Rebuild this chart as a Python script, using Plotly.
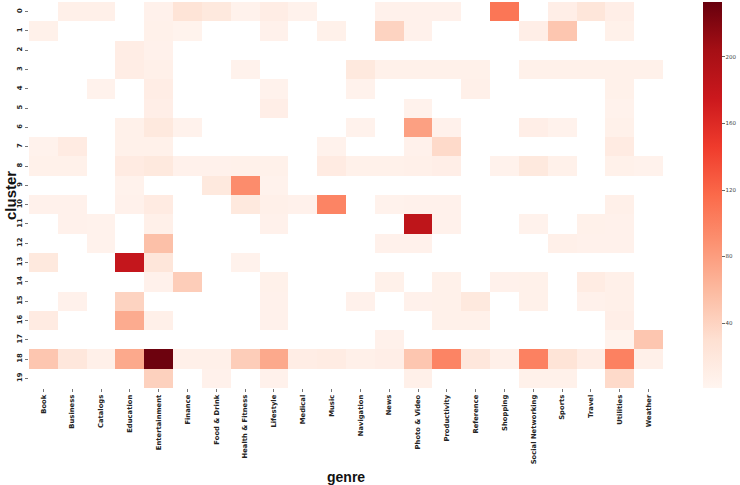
import plotly.graph_objects as go

genres = ["Book", "Business", "Catalogs", "Education", "Entertainment", "Finance",
          "Food & Drink", "Health & Fitness", "Lifestyle", "Medical", "Music",
          "Navigation", "News", "Photo & Video", "Productivity", "Reference",
          "Shopping", "Social Networking", "Sports", "Travel", "Utilities", "Weather"]
clusters = list(range(20))
N = None

cluster_0 = [N, 8, 8, N, 6, 25, 18, 5, 12, 5, N, N, 6, 6, 6, N, 108, N, 10, 22, 10, N]
cluster_1 = [7, N, N, N, 7, 4, N, N, 6, N, 7, N, 40, 6, N, N, N, 10, 50, N, 7, N]
cluster_2 = [N, N, N, 12, 6, N, N, N, N, N, N, N, N, N, N, N, N, N, N, N, N, N]
cluster_3 = [N, N, N, 12, 8, N, N, 5, N, N, N, 18, 7, 7, 7, 7, N, 7, 7, 7, 7, 7]
cluster_4 = [N, N, 5, N, 12, N, N, N, 5, N, N, 5, N, N, N, 8, N, N, N, N, 7, N]
cluster_5 = [N, N, N, N, 10, N, N, N, 10, N, N, N, N, 5, N, N, N, N, N, N, 5, N]
cluster_6 = [N, N, N, 7, 18, 5, N, N, N, N, N, 5, N, 78, 6, N, N, 10, 5, N, 7, N]
cluster_7 = [5, 15, N, 7, 7, N, N, N, N, N, 5, N, N, 6, 35, N, N, N, N, N, 15, N]
cluster_8 = [7, 7, N, 15, 18, 6, 6, 7, 7, N, 15, 7, 7, 8, 10, N, 5, 18, 7, N, 7, 5]
cluster_9 = [N, N, N, 5, N, N, 18, 92, 5, N, N, N, N, N, N, N, N, N, N, N, N, N]
cluster_10 = [6, 6, N, 6, 15, N, N, 18, 8, 6, 98, N, 5, 6, 6, N, N, N, N, N, 8, N]
cluster_11 = [N, 6, 5, N, 8, N, N, N, 6, N, N, N, N, 185, 6, N, N, 5, N, 7, 6, N]
cluster_12 = [N, N, 5, N, 55, N, N, N, N, N, N, N, 6, 6, N, N, N, N, 8, 6, 6, N]
cluster_13 = [18, N, N, 180, 22, N, N, 5, N, N, N, N, N, N, N, N, N, N, N, N, N, N]
cluster_14 = [N, N, N, N, 6, 45, N, N, 7, N, N, N, 7, N, 7, N, 6, 7, N, 14, 8, N]
cluster_15 = [N, 6, N, 40, N, N, N, N, 6, N, N, 6, N, 6, 7, 18, N, 7, N, 6, 8, N]
cluster_16 = [15, N, N, 70, 8, N, N, N, 6, N, N, N, N, N, 7, 7, N, N, N, N, 10, N]
cluster_17 = [N, N, N, N, N, N, N, N, N, N, N, N, 6, N, N, N, N, N, N, N, 4, 50]
cluster_18 = [50, 20, 8, 72, 230, 8, 8, 45, 72, 12, 14, 8, 10, 50, 98, 20, 8, 100, 25, 12, 100, 8]
cluster_19 = [N, N, N, N, 42, N, 6, N, 6, N, N, N, N, 8, N, N, N, 7, 7, N, 35, N]

z = [cluster_0, cluster_1, cluster_2, cluster_3, cluster_4, cluster_5, cluster_6,
     cluster_7, cluster_8, cluster_9, cluster_10, cluster_11, cluster_12, cluster_13,
     cluster_14, cluster_15, cluster_16, cluster_17, cluster_18, cluster_19]

colorbar_ticks = [40, 80, 120, 160, 200]

reds = [[0.0, "#fff5f0"], [0.125, "#fee0d2"], [0.25, "#fcbba1"], [0.375, "#fc9272"],
        [0.5, "#fb6a4a"], [0.625, "#ef3b2c"], [0.75, "#cb181d"], [0.875, "#a50f15"],
        [1.0, "#67000d"]]

fig = go.Figure(go.Heatmap(
    z=z, x=genres, y=clusters, colorscale=reds, zmin=1, zmax=233,
    hoverongaps=False,
    colorbar=dict(x=1.063, xanchor="left", xpad=0, ypad=0, thickness=19, len=1,
                  lenmode="fraction", y=0.5, yanchor="middle", outlinewidth=0,
                  tickvals=colorbar_ticks, ticks="outside", ticklen=3, tickcolor="#666",
                  tickfont=dict(family="DejaVu Sans", size=5.5, color="#444")),
))

tickfont = dict(family="DejaVu Sans", size=6.8, color="#222", weight="bold")
fig.update_xaxes(tickangle=-90, ticks="outside", ticklen=3, tickcolor="#777",
                 tickfont=tickfont, showgrid=False, zeroline=False, showline=False,
                 automargin=False)
fig.update_yaxes(autorange="reversed", tickvals=clusters, tickangle=-90, ticks="outside",
                 ticklen=3, tickcolor="#777", tickfont=tickfont, showgrid=False,
                 zeroline=False, showline=False, automargin=False)

fig.update_layout(
    width=740, height=485, margin=dict(l=29, r=77, t=2, b=97, autoexpand=False),
    plot_bgcolor="white", paper_bgcolor="white", showlegend=False,
    annotations=[
        dict(text="cluster", xref="paper", yref="paper", x=-0.03, y=0.5, textangle=-90,
             showarrow=False, xanchor="center", yanchor="middle",
             font=dict(family="Liberation Sans", size=15, color="#111", weight="bold")),
        dict(text="genre", xref="paper", yref="paper", x=0.5, y=-0.23,
             showarrow=False, xanchor="center", yanchor="middle",
             font=dict(family="Liberation Sans", size=14, color="#111", weight="bold")),
    ],
)

fig.write_html("out.html", config={"displayModeBar": False},
               post_script="document.body.style.margin='0';document.body.style.overflow='hidden';")
